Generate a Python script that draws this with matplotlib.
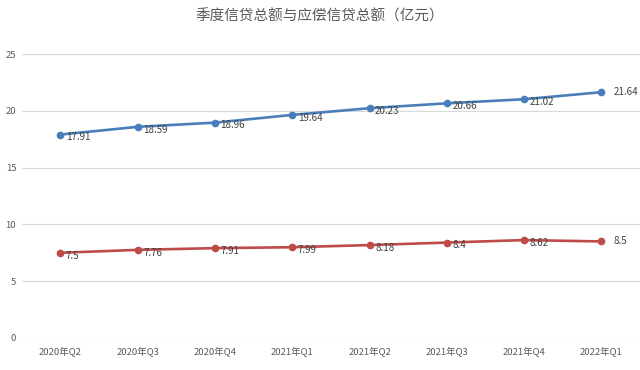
import matplotlib
matplotlib.use("Agg")
import matplotlib.pyplot as plt

plt.rcParams['font.family'] = ['Noto Sans CJK SC', 'DejaVu Sans']

quarters = ['2020年Q2', '2020年Q3', '2020年Q4', '2021年Q1',
            '2021年Q2', '2021年Q3', '2021年Q4', '2022年Q1']
total_credit = [17.91, 18.59, 18.96, 19.64, 20.23, 20.66, 21.02, 21.64]
repay_credit = [7.5, 7.76, 7.91, 7.99, 8.18, 8.4, 8.62, 8.5]
yticks = [0, 5, 10, 15, 20, 25]

fig = plt.figure(figsize=(6.4, 3.7), dpi=100)
ax = fig.add_axes([0.034, 0.0865, 0.966, 0.7675])

x = list(range(len(quarters)))
blue = '#4a7ebb'
red = '#be4b48'
ax.plot(x, total_credit, color=blue, lw=1.9, marker='o', ms=4.5, zorder=3)
ax.plot(x, repay_credit, color=red, lw=1.9, marker='o', ms=4.5, zorder=3)

# data labels, the last one sits a bit further to the right
for series in (total_credit, repay_credit):
    for i, v in enumerate(series):
        dx = 9 if i == len(series) - 1 else 4
        dy = 0 if i == len(series) - 1 else -2
        ax.annotate(f'{v:g}', (i, v), xytext=(dx, dy), textcoords='offset points',
                    ha='left', va='center', fontsize=7, color='#404040', zorder=4)

ax.set_xlim(-0.5, len(quarters) - 0.5)
ax.set_ylim(0, 25)
ax.set_yticks(yticks)
ax.set_xticks(x)
ax.set_xticklabels(quarters)
ax.tick_params(axis='both', length=0, labelsize=6.8, labelcolor='#595959')
ax.tick_params(axis='x', pad=6)
ax.tick_params(axis='y', pad=4)
ax.grid(axis='y', color='#d9d9d9', lw=0.9)
ax.set_axisbelow(True)
for s in ax.spines.values():
    s.set_visible(False)

fig.text(0.5, 0.955, '季度信贷总额与应偿信贷总额（亿元）', ha='center', va='center',
         fontsize=10.5, color='#595959')

fig.savefig('out.png', dpi=100)
